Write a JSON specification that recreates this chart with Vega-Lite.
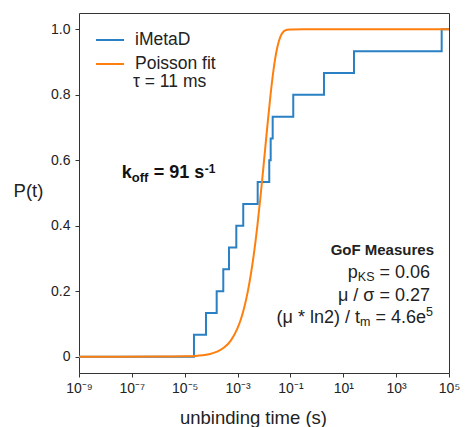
{
  "$schema": "https://vega.github.io/schema/vega-lite/v6.json",
  "width": 370,
  "height": 360,
  "autosize": "none",
  "padding": {"left": 79, "top": 13, "right": 16, "bottom": 54},
  "background": "white",
  "config": {
    "font": "Liberation Sans",
    "view": {"stroke": "#333", "strokeWidth": 1},
    "axis": {"domain": false, "grid": false, "tickColor": "#333", "labelColor": "#222", "labelFontSize": 14, "tickSize": 4, "titleColor": "#222", "titleFontWeight": "normal"}
  },
  "encoding": {
    "x": {"field": "t", "type": "quantitative",
      "scale": {"type": "log", "domain": [1e-9, 100000], "nice": false},
      "axis": {"values": [1e-9, 1e-7, 1e-5, 0.001, 0.1, 10, 1000, 100000],
        "labelExpr": "['10⁻⁹','10⁻⁷','10⁻⁵','10⁻³','10⁻¹','10¹','10³','10⁵'][round((log(datum.value)/LN10 + 9)/2)]",
        "labelPadding": 4, "labelFlush": false, "labelFontSize": 14,
        "title": "unbinding time (s)", "titleFontSize": 18.5, "titleX": 174, "titleY": 50, "titleBaseline": "alphabetic", "titleAnchor": "middle"}},
    "y": {"field": "p", "type": "quantitative",
      "scale": {"domain": [-0.05, 1.05], "nice": false, "zero": false},
      "axis": {"values": [0, 0.2, 0.4, 0.6, 0.8, 1],
        "labelExpr": "datum.value == 0 ? '0' : format(datum.value, '.1f')",
        "labelPadding": 5,
        "title": "P(t)", "titleAngle": 0, "titleFontSize": 18.5, "titleX": -51, "titleY": 177, "titleAlign": "center", "titleBaseline": "middle"}}
  },
  "layer": [
    {
      "data": {"values": [
        {"t": 1e-9, "p": 0},
        {"t": 2.24e-5, "p": 0.0667},
        {"t": 6.38e-5, "p": 0.1333},
        {"t": 1.62e-4, "p": 0.2},
        {"t": 2.88e-4, "p": 0.2667},
        {"t": 4.73e-4, "p": 0.3333},
        {"t": 8.95e-4, "p": 0.4},
        {"t": 1.64e-3, "p": 0.4667},
        {"t": 5.77e-3, "p": 0.5333},
        {"t": 0.0158, "p": 0.6},
        {"t": 0.0179, "p": 0.6667},
        {"t": 0.0213, "p": 0.7333},
        {"t": 0.128, "p": 0.8},
        {"t": 1.86, "p": 0.8667},
        {"t": 25.4, "p": 0.9333},
        {"t": 52800, "p": 1.0},
        {"t": 100000, "p": 1.0}
      ]},
      "mark": {"type": "line", "interpolate": "step-after", "strokeWidth": 2, "clip": true},
      "encoding": {
        "color": {"datum": "iMetaD", "type": "nominal",
          "scale": {"domain": ["iMetaD", "Poisson fit"], "range": ["#2a80c4", "#ff7f0e"]},
          "legend": {"title": null, "orient": "none", "legendX": 16, "legendY": 12, "symbolType": "stroke", "symbolSize": 784, "symbolStrokeWidth": 2, "labelFontSize": 17.5, "labelOffset": 10, "rowPadding": -16, "padding": 0, "labelColor": "#222"}}
      }
    },
    {
      "data": {"values": [
        {"t": 1e-9, "p": 0},
        {"t": 1e-6, "p": 0.00009},
        {"t": 1e-5, "p": 0.00091},
        {"t": 3.162e-5, "p": 0.00287},
        {"t": 1e-4, "p": 0.00906},
        {"t": 1.778e-4, "p": 0.01605},
        {"t": 3.162e-4, "p": 0.02836},
        {"t": 5.623e-4, "p": 0.04988},
        {"t": 1e-3, "p": 0.0870},
        {"t": 1.334e-3, "p": 0.1142},
        {"t": 1.778e-3, "p": 0.1494},
        {"t": 2.371e-3, "p": 0.1941},
        {"t": 3.162e-3, "p": 0.2501},
        {"t": 4.217e-3, "p": 0.3187},
        {"t": 5.623e-3, "p": 0.4005},
        {"t": 7.499e-3, "p": 0.4946},
        {"t": 0.01, "p": 0.5975},
        {"t": 0.01334, "p": 0.7028},
        {"t": 0.01778, "p": 0.8017},
        {"t": 0.02371, "p": 0.8844},
        {"t": 0.03162, "p": 0.9437},
        {"t": 0.04217, "p": 0.9785},
        {"t": 0.05623, "p": 0.9940},
        {"t": 0.07499, "p": 0.99891},
        {"t": 0.1, "p": 0.99989},
        {"t": 0.3162, "p": 1.0},
        {"t": 100000, "p": 1.0}
      ]},
      "mark": {"type": "line", "interpolate": "monotone", "strokeWidth": 2, "clip": true},
      "encoding": {"color": {"datum": "Poisson fit", "type": "nominal"}}
    },
    {
      "data": {"values": [{"t": 1.104e-7, "p": 0.8392, "label": "τ = 11 ms"}]},
      "mark": {"type": "text", "align": "left", "baseline": "middle", "fontSize": 17.5, "color": "#222"},
      "encoding": {"text": {"field": "label"}}
    },
    {
      "data": {"values": [{"t": 4.127e-8, "p": 0.5458, "label": "k"}]},
      "mark": {"type": "text", "align": "left", "baseline": "alphabetic", "fontSize": 18, "fontWeight": "bold", "color": "#111"},
      "encoding": {"text": {"field": "label"}}
    },
    {
      "data": {"values": [{"t": 4.127e-8, "p": 0.5458, "label": "off"}]},
      "mark": {"type": "text", "align": "left", "baseline": "alphabetic", "fontSize": 13, "fontWeight": "bold", "color": "#111", "dx": 10, "dy": 3.5},
      "encoding": {"text": {"field": "label"}}
    },
    {
      "data": {"values": [{"t": 4.127e-8, "p": 0.5458, "label": "= 91 s"}]},
      "mark": {"type": "text", "align": "left", "baseline": "alphabetic", "fontSize": 18, "fontWeight": "bold", "color": "#111", "dx": 32},
      "encoding": {"text": {"field": "label"}}
    },
    {
      "data": {"values": [{"t": 4.127e-8, "p": 0.5458, "label": "-1"}]},
      "mark": {"type": "text", "align": "left", "baseline": "alphabetic", "fontSize": 12, "fontWeight": "bold", "color": "#111", "dx": 83, "dy": -5},
      "encoding": {"text": {"field": "label"}}
    },
    {
      "data": {"values": [{"t": 19105, "p": 0.3105, "label": "GoF Measures"}]},
      "mark": {"type": "text", "align": "right", "baseline": "alphabetic", "fontSize": 15, "fontWeight": "bold", "color": "#222", "dx": 4},
      "encoding": {"text": {"field": "label"}}
    },
    {
      "data": {"values": [{"t": 19105, "p": 0.2403, "label": "= 0.06"}]},
      "mark": {"type": "text", "align": "right", "baseline": "alphabetic", "fontSize": 18, "color": "#222"},
      "encoding": {"text": {"field": "label"}}
    },
    {
      "data": {"values": [{"t": 19105, "p": 0.2403, "label": "KS"}]},
      "mark": {"type": "text", "align": "right", "baseline": "alphabetic", "fontSize": 12.5, "color": "#222", "dx": -55.5, "dy": 3},
      "encoding": {"text": {"field": "label"}}
    },
    {
      "data": {"values": [{"t": 19105, "p": 0.2403, "label": "p"}]},
      "mark": {"type": "text", "align": "right", "baseline": "alphabetic", "fontSize": 18, "color": "#222", "dx": -72.2},
      "encoding": {"text": {"field": "label"}}
    },
    {
      "data": {"values": [{"t": 19105, "p": 0.1700, "label": "μ / σ = 0.27"}]},
      "mark": {"type": "text", "align": "right", "baseline": "alphabetic", "fontSize": 18, "color": "#222"},
      "encoding": {"text": {"field": "label"}}
    },
    {
      "data": {"values": [{"t": 19105, "p": 0.1028, "label": "5"}]},
      "mark": {"type": "text", "align": "right", "baseline": "alphabetic", "fontSize": 12.5, "color": "#222", "dx": 3, "dy": -7},
      "encoding": {"text": {"field": "label"}}
    },
    {
      "data": {"values": [{"t": 19105, "p": 0.1028, "label": "= 4.6e"}]},
      "mark": {"type": "text", "align": "right", "baseline": "alphabetic", "fontSize": 18, "color": "#222", "dx": -4},
      "encoding": {"text": {"field": "label"}}
    },
    {
      "data": {"values": [{"t": 19105, "p": 0.1028, "label": "m"}]},
      "mark": {"type": "text", "align": "right", "baseline": "alphabetic", "fontSize": 12.5, "color": "#222", "dx": -59.5, "dy": 3},
      "encoding": {"text": {"field": "label"}}
    },
    {
      "data": {"values": [{"t": 19105, "p": 0.1028, "label": "(μ * ln2) / t"}]},
      "mark": {"type": "text", "align": "right", "baseline": "alphabetic", "fontSize": 18, "color": "#222", "dx": -70},
      "encoding": {"text": {"field": "label"}}
    }
  ]
}
